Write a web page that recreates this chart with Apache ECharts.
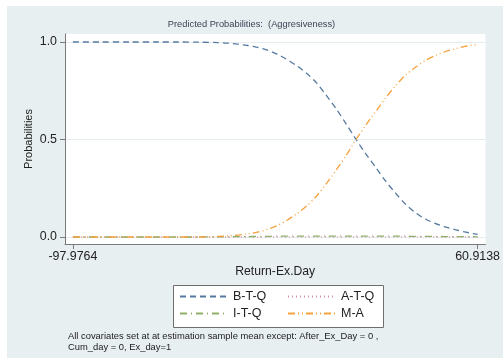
<!DOCTYPE html>
<html>
<head>
<meta charset="utf-8">
<script src="https://cdn.jsdelivr.net/npm/echarts@6/dist/echarts.min.js"></script>
<style>html,body{margin:0;padding:0;background:#fff;}#c{width:503px;height:364px;}</style>
</head>
<body>
<div id="c"></div>
<script>
// ---- data ----
const returnExDay = [-97.9764, -87.5, -75.9, -64.3, -56.5, -48.8, -41.0, -37.1, -33.3, -29.4, -25.5, -21.6, -17.8, -13.9, -10.0, -6.1, -2.3, 1.6, 5.5, 9.4, 13.2, 17.1, 21.0, 24.9, 28.7, 32.6, 36.5, 40.4, 44.2, 48.1, 52.0, 55.9, 60.9138];
const btq = [1.0, 1.0, 1.0, 1.0, 1.0, 0.999, 0.997, 0.994, 0.989, 0.982, 0.972, 0.958, 0.938, 0.91, 0.877, 0.838, 0.79, 0.725, 0.655, 0.578, 0.50, 0.425, 0.355, 0.285, 0.225, 0.168, 0.125, 0.092, 0.07, 0.052, 0.038, 0.026, 0.013];
const atq = [0.0, 0.0, 0.0, 0.0, 0.0, 0.0, 0.0, 0.0, 0.0, 0.0, 0.0, 0.0, 0.001, 0.001, 0.001, 0.001, 0.001, 0.001, 0.001, 0.001, 0.001, 0.001, 0.001, 0.001, 0.001, 0.001, 0.001, 0.001, 0.0, 0.0, 0.0, 0.0, 0.0];
const itq = [0.0, 0.0, 0.0, 0.0, 0.0, 0.0, 0.001, 0.001, 0.002, 0.002, 0.003, 0.003, 0.004, 0.004, 0.004, 0.004, 0.004, 0.004, 0.004, 0.004, 0.004, 0.004, 0.004, 0.004, 0.004, 0.004, 0.003, 0.003, 0.003, 0.002, 0.002, 0.002, 0.001];
const ma = [0.0, 0.0, 0.0, 0.0, 0.0, 0.0, 0.003, 0.005, 0.01, 0.016, 0.025, 0.039, 0.058, 0.086, 0.12, 0.16, 0.21, 0.275, 0.345, 0.42, 0.50, 0.575, 0.645, 0.715, 0.775, 0.83, 0.87, 0.905, 0.93, 0.95, 0.965, 0.977, 0.988];
const seriesNames = ['B-T-Q', 'A-T-Q', 'I-T-Q', 'M-A'];
const xTickValues = [-97.9764, 60.9138];
const yTickValues = [0, 0.5, 1];
const titleText = 'Predicted Probabilities:  (Aggresiveness)';
const noteText = 'All covariates set at at estimation sample mean except: After_Ex_Day = 0 ,\nCum_day = 0, Ex_day=1';
const xTitle = 'Return-Ex.Day';
const yTitle = 'Probabilities';

const FONT = '"Liberation Sans", Arial, Helvetica, sans-serif';
const colors = ['#557aa0', '#d9939f', '#8fae6c', '#f5a13c'];
const dashes = [[6, 4], [1, 3], [7, 4, 1, 4], [7, 3, 1, 3, 1, 3]];
const valuesBySeries = [btq, atq, itq, ma];

const pairs = v => returnExDay.map((x, i) => [x, v[i]]);

const chart = echarts.init(document.getElementById('c'), null, {renderer: 'canvas'});

const legendPos = [
  {left: 179, top: 290},
  {left: 287, top: 290},
  {left: 179, top: 307},
  {left: 287, top: 307}
];

const option = {
  animation: false,
  backgroundColor: '#ffffff',
  textStyle: {fontFamily: FONT},
  graphic: [
    {type: 'rect', left: 7, top: 6, z: -10, shape: {width: 496, height: 352}, style: {fill: '#e8eff1'}},
    {type: 'rect', left: 173, top: 285, z: 1, shape: {width: 210, height: 42}, style: {fill: '#ffffff', stroke: '#6e6e6e', lineWidth: 1}}
  ],
  title: [
    {text: titleText, left: 'center', top: 20, padding: 0, textStyle: {fontSize: 9.3, fontWeight: 'normal', color: '#3a4556', fontFamily: FONT}},
    {text: noteText, left: 68, top: 331, padding: 0, textStyle: {fontSize: 9.4, fontWeight: 'normal', color: '#222', lineHeight: 11, fontFamily: FONT}}
  ],
  grid: {left: 65, right: 12, top: 34, bottom: 120, show: true, backgroundColor: '#ffffff', borderWidth: 0},
  legend: seriesNames.map((n, i) => ({
    data: [n], left: legendPos[i].left, top: legendPos[i].top, padding: 0, z: 5,
    itemWidth: 48, itemHeight: 14, itemGap: 5,
    itemStyle: {opacity: 0},
    textStyle: {fontSize: 12.5, color: '#222', fontFamily: FONT}
  })),
  xAxis: {
    type: 'value', min: -101.08, max: 64.01,
    name: xTitle, nameLocation: 'middle', nameGap: 22, nameMoveOverlap: false,
    nameTextStyle: {fontSize: 12.2, color: '#222', fontFamily: FONT},
    axisLine: {show: true, onZero: false, lineStyle: {color: '#7a7a7a', width: 1}},
    axisTick: {show: true, length: 5, customValues: xTickValues, lineStyle: {color: '#7a7a7a'}},
    axisLabel: {customValues: xTickValues, margin: 7, fontSize: 12.4, color: '#222', fontFamily: FONT,
      formatter: v => v.toFixed(4)},
    splitLine: {show: false}
  },
  yAxis: {
    type: 'value', min: -0.036, max: 1.041,
    name: yTitle, nameLocation: 'middle', nameGap: 31, nameMoveOverlap: false,
    nameTextStyle: {fontSize: 11, color: '#222', fontFamily: FONT},
    axisLine: {show: true, onZero: false, lineStyle: {color: '#7a7a7a', width: 1}},
    axisTick: {show: true, length: 5, customValues: yTickValues, lineStyle: {color: '#7a7a7a'}},
    axisLabel: {customValues: yTickValues, margin: 8, fontSize: 12.4, color: '#222', fontFamily: FONT,
      formatter: v => v.toFixed(1)},
    splitLine: {show: true, lineStyle: {color: '#e4ecef', width: 1}}
  },
  series: seriesNames.map((n, i) => ({
    name: n, type: 'line', data: pairs(valuesBySeries[i]),
    showSymbol: false, symbol: 'none', smooth: 0.3,
    lineStyle: {color: colors[i], width: 1.3, type: dashes[i]},
    itemStyle: {color: colors[i]},
    z: 3 + i
  }))
};
chart.setOption(option);
</script>
</body>
</html>
